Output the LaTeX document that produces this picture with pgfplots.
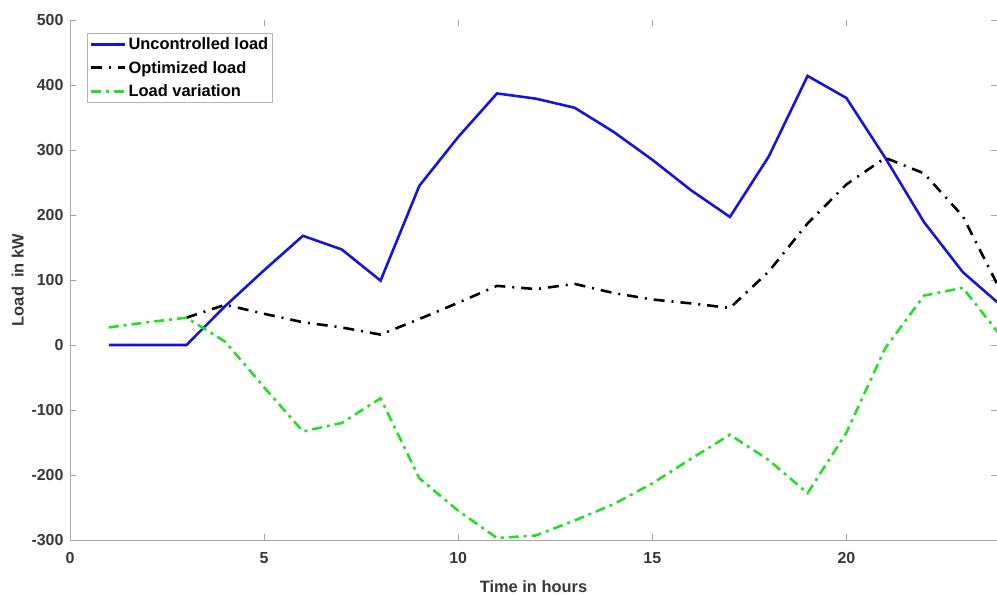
\documentclass[border=0pt]{standalone}
\usepackage{fontspec}
\setmainfont{Liberation Sans}
\usepackage{pgfplots}
\pgfplotsset{compat=1.18}
\definecolor{ublue}{RGB}{20,20,220}
\definecolor{ugreen}{RGB}{40,220,40}
\definecolor{tickgray}{RGB}{55,55,55}
\begin{document}
\begin{tikzpicture}
\begin{axis}[
  scale only axis,
  width=927bp, height=520bp,
  xmin=0, xmax=23.88, ymin=-300, ymax=500,
  xtick={0,5,10,15,20}, ytick={-300,-200,-100,0,100,200,300,400,500},
  /pgf/number format/assume math mode=true,
  tick label style={font=\fontsize{16}{18}\selectfont\bfseries, text=tickgray},
  yticklabel style={xshift=-3bp},
  xticklabel style={yshift=-9bp},
  axis line style={draw=none},
  tick style={gray!70, line width=0.8pt},
  tick align=inside,
  major tick length=6bp,
  xlabel={Time in hours}, ylabel={Load\ \ in kW},
  label style={font=\fontsize{16.5}{18}\selectfont\bfseries, text=tickgray},
  xlabel style={yshift=-10bp},
  ylabel style={yshift=1bp},
  legend cell align=left,
  legend style={at={(0.018,0.975)}, anchor=north west, draw=gray!60, line width=0.8pt,
    font=\fontsize{16.5}{18}\selectfont\bfseries, inner sep=2.5pt, row sep=6pt},
  legend image code/.code={\draw[#1, line width=3pt] (0bp,0bp) -- (34bp,0bp);},
  clip=true,
]
\addplot[ublue, line width=2.6pt] coordinates {
(1,0) (2,0) (3,0) (4,60) (5,115) (6,168) (7,147) (8,99) (9,245) (10,320) (11,387) (12,379)
(13,365) (14,328) (15,285) (16,238) (17,197) (18,290) (19,414) (20,380) (21,288) (22,189)
(23,112) (24,60)};
\addlegendentry{Uncontrolled load}
\addplot[black, line width=2.6pt, dash pattern=on 11pt off 7pt on 2pt off 7pt] coordinates {
(3,42) (4,62) (5,48) (6,35) (7,27) (8,16) (9,40) (10,65) (11,91) (12,86) (13,94) (14,80)
(15,70) (16,64) (17,57) (18,113) (19,187) (20,247) (21,288) (22,264) (23,198) (24,80)};
\addlegendentry{Optimized load}
\addplot[ugreen, line width=2.6pt, dash pattern=on 10pt off 5pt on 3pt off 5pt] coordinates {
(1,27) (2,35) (3,42) (4,5) (5,-65) (6,-133) (7,-120) (8,-82) (9,-205) (10,-255) (11,-297)
(12,-293) (13,-270) (14,-245) (15,-213) (16,-175) (17,-138) (18,-177) (19,-228) (20,-135)
(21,-5) (22,76) (23,88) (24,12)};
\addlegendentry{Load variation}
\draw[gray!70, line width=1pt] (rel axis cs:0,1) -- (rel axis cs:0,0) -- (rel axis cs:1,0);
\end{axis}
\pgfresetboundingbox
\path[use as bounding box] (-70bp,-55bp) rectangle (927bp,540bp);
\end{tikzpicture}
\end{document}
